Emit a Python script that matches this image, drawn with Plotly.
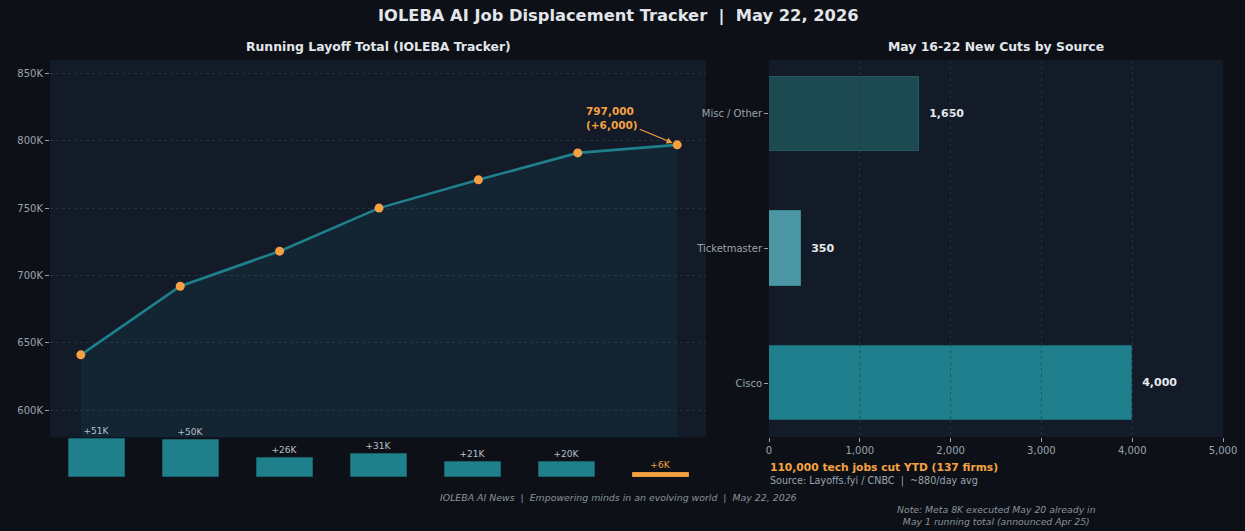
import plotly.graph_objects as go

# ---------------- data ----------------
point_idx = [0, 1, 2, 3, 4, 5, 6]
running_total = [641000, 692000, 718000, 750000, 771000, 791000, 797000]
delta_vals = [51000, 50000, 26000, 31000, 21000, 20000, 6000]
delta_labels = ["+51K", "+50K", "+26K", "+31K", "+21K", "+20K", "+6K"]
y_ticks = [600000, 650000, 700000, 750000, 800000, 850000]
y_tick_labels = ["600K", "650K", "700K", "750K", "800K", "850K"]

sources = ["Cisco", "Ticketmaster", "Misc / Other"]
source_cuts = [4000, 350, 1650]
source_labels = ["4,000", "350", "1,650"]
x_ticks_right = [0, 1000, 2000, 3000, 4000, 5000]
x_tick_labels_right = ["0", "1,000", "2,000", "3,000", "4,000", "5,000"]

# ---------------- styles ----------------
W, H = 1245, 531
FIG_BG = "#0d1117"
PLOT_BG = "#131a28"
TEAL = "#1f808c"
ORANGE = "#f5a142"
GRID = "rgba(70,95,115,0.35)"
TICK_C = "#9aa3ad"
FONT = "DejaVu Sans"
NB = "\u00a0"
src_colors = ["#1f7f8c", "#4b98a4", "#1c4a50"]
src_edges = ["#1a6670", "#3d8792", "#1e5a60"]
delta_colors = [TEAL] * 6 + [ORANGE]
delta_edges = ["#17606a"] * 6 + ["#e8923a"]
delta_text_colors = ["#b8c0c8"] * 6 + [ORANGE]


def px_x(p):
    return p / W


def px_y(p):
    return 1 - p / H


def sep():
    return NB * 2 + "|" + NB * 2


fig = go.Figure()

# main running-total line
fig.add_trace(go.Scatter(
    x=point_idx, y=running_total, mode="lines+markers",
    line=dict(color=TEAL, width=2.6),
    marker=dict(color=ORANGE, size=9, line=dict(width=0)),
    fill="tozeroy", fillcolor="rgba(25,110,130,0.13)",
    xaxis="x", yaxis="y", showlegend=False, hoverinfo="skip"))

# delta bars inset
fig.add_trace(go.Bar(
    x=point_idx, y=delta_vals, width=0.6,
    marker=dict(color=delta_colors, line=dict(color=delta_edges, width=1)),
    text=delta_labels, textposition="outside", constraintext="none",
    textfont=dict(size=9, color=delta_text_colors, family=FONT),
    cliponaxis=False, xaxis="x3", yaxis="y3", showlegend=False, hoverinfo="skip"))

# source bars
fig.add_trace(go.Bar(
    y=list(range(len(sources))), x=source_cuts, orientation="h", width=0.55,
    marker=dict(color=src_colors, line=dict(color=src_edges, width=1)),
    text=[NB * 2 + s for s in source_labels], textposition="outside", constraintext="none",
    textfont=dict(size=11, color="#e6e9ee", family=FONT, weight="bold"),
    cliponaxis=False, xaxis="x2", yaxis="y2", showlegend=False, hoverinfo="skip"))

main_y_dom = [px_y(437), px_y(60)]

fig.update_layout(
    width=W, height=H, autosize=False,
    paper_bgcolor=FIG_BG, plot_bgcolor=PLOT_BG,
    margin=dict(l=0, r=0, t=0, b=0, autoexpand=False),
    font=dict(family=FONT, color=TICK_C, size=10),
    bargap=0,
    xaxis=dict(domain=[px_x(50), px_x(706)], range=[-0.31, 6.29], automargin=False,
               showgrid=False, showticklabels=False, ticks="", zeroline=False,
               showline=False),
    yaxis=dict(domain=main_y_dom, range=[580000, 860000], automargin=False,
               tickvals=y_ticks, ticktext=y_tick_labels,
               ticks="outside", ticklen=4, tickcolor=TICK_C,
               tickfont=dict(size=10, color=TICK_C),
               showgrid=True, gridcolor=GRID, griddash="3px,3px", gridwidth=0.8,
               zeroline=False, showline=False),
    xaxis3=dict(domain=[px_x(50), px_x(708)], range=[-0.5, 6.5], anchor="y3",
                automargin=False,
                showgrid=False, showticklabels=False, ticks="", zeroline=False,
                showline=False),
    yaxis3=dict(domain=[px_y(480), px_y(437)], range=[-3600, 54200], anchor="x3",
                automargin=False,
                showgrid=False, showticklabels=False, ticks="", zeroline=False,
                showline=False),
    xaxis2=dict(domain=[px_x(769), px_x(1223)], range=[0, 5000], anchor="y2",
                automargin=False,
                tickvals=x_ticks_right, ticktext=x_tick_labels_right,
                ticks="outside", ticklen=4, tickcolor=TICK_C,
                tickfont=dict(size=10, color=TICK_C),
                showgrid=True, gridcolor=GRID, griddash="3px,3px", gridwidth=0.8,
                zeroline=False, showline=False),
    yaxis2=dict(domain=main_y_dom, range=[-0.4, 2.4], anchor="x2",
                automargin=False,
                tickvals=list(range(len(sources))), ticktext=sources,
                ticks="outside", ticklen=4, tickcolor=TICK_C,
                tickfont=dict(size=10, color=TICK_C),
                showgrid=False, zeroline=False, showline=False),
)

# inset delta-bar panel sits on the figure background (no panel fill)
fig.add_shape(type="rect", xref="paper", yref="paper",
              x0=px_x(50), x1=px_x(708), y0=px_y(480), y1=px_y(437.5),
              fillcolor=FIG_BG, line=dict(width=0), layer="below")

# grid lines drawn over the source bars (as in the reference)
for gx in x_ticks_right[1:-1]:
    fig.add_shape(type="line", xref="x2", yref="paper", x0=gx, x1=gx,
                  y0=main_y_dom[0], y1=main_y_dom[1],
                  line=dict(color="rgba(20,40,55,0.55)", width=0.8, dash="3px,3px"),
                  layer="above")

annotations = [
    dict(text="<b>IOLEBA AI Job Displacement Tracker" + sep() + "May 22, 2026</b>",
         x=px_x(618), y=px_y(16), xref="paper", yref="paper", showarrow=False,
         font=dict(size=16.3, color="#e2e6eb", family=FONT), xanchor="center", yanchor="middle"),
    dict(text="<b>Running Layoff Total (IOLEBA Tracker)</b>",
         x=px_x(378), y=px_y(46), xref="paper", yref="paper", showarrow=False,
         font=dict(size=12.4, color="#e2e6eb", family=FONT), xanchor="center", yanchor="middle"),
    dict(text="<b>May 16-22 New Cuts by Source</b>",
         x=px_x(996), y=px_y(46), xref="paper", yref="paper", showarrow=False,
         font=dict(size=12.4, color="#e2e6eb", family=FONT), xanchor="center", yanchor="middle"),
    dict(text="<b>797,000<br>(+6,000)</b>",
         x=point_idx[-1], y=running_total[-1], xref="x", yref="y",
         ax=-65, ay=-27, showarrow=True, arrowhead=2, arrowsize=1, arrowwidth=1.2,
         arrowcolor=ORANGE, standoff=5, align="left",
         font=dict(size=10.5, color=ORANGE, family=FONT)),
    dict(text="<b>110,000 tech jobs cut YTD (137 firms)</b>",
         x=px_x(768), y=px_y(467), xref="paper", yref="paper", showarrow=False,
         font=dict(size=10.7, color=ORANGE, family=FONT), xanchor="left", yanchor="middle"),
    dict(text="Source: Layoffs.fyi / CNBC" + sep() + "~880/day avg",
         x=px_x(768), y=px_y(481), xref="paper", yref="paper", showarrow=False,
         font=dict(size=9.6, color="#9aa3ad", family=FONT), xanchor="left", yanchor="middle"),
    dict(text="<i>IOLEBA AI News" + sep() + "Empowering minds in an evolving world" + sep()
         + "May 22, 2026</i>",
         x=px_x(618), y=px_y(497), xref="paper", yref="paper", showarrow=False,
         font=dict(size=9.4, color="#8a929c", family=FONT), xanchor="center", yanchor="middle"),
    dict(text="<i>Note: Meta 8K executed May 20 already in<br>May 1 running total (announced Apr 25)</i>",
         x=px_x(996), y=px_y(515), xref="paper", yref="paper", showarrow=False,
         font=dict(size=9.3, color="#8a929c", family=FONT), xanchor="center", yanchor="middle"),
]
fig.update_layout(annotations=annotations)

fig.write_html(
    "out.html",
    config={"responsive": False, "displayModeBar": False},
    post_script="document.body.style.margin='0';document.body.style.background='#0d1117';"
                "document.body.style.overflow='hidden';",
)
